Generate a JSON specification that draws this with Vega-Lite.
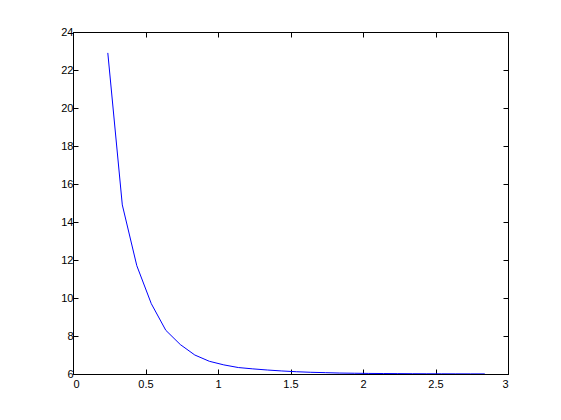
{
  "$schema": "https://vega.github.io/schema/vega-lite/v6.json",
  "width": 435,
  "height": 342,
  "autosize": {"type": "none"},
  "padding": {"left": 73, "top": 32, "right": 53, "bottom": 46},
  "background": "white",
  "config": {
    "view": {"stroke": "black", "strokeWidth": 1},
    "axis": {
      "grid": false,
      "title": null,
      "domainColor": "black",
      "domainWidth": 1,
      "tickColor": "black",
      "tickWidth": 1,
      "tickSize": -5,
      "labelFont": "Liberation Sans",
      "labelFontSize": 11,
      "labelColor": "black",
      "format": "~g"
    },
    "axisX": {"labelPadding": 9},
    "axisY": {"labelPadding": 5}
  },
  "data": {
    "values": [
      {"x": 0.24, "y": 22.9},
      {"x": 0.34, "y": 14.9},
      {"x": 0.44, "y": 11.7},
      {"x": 0.54, "y": 9.7},
      {"x": 0.64, "y": 8.3},
      {"x": 0.74, "y": 7.55},
      {"x": 0.84, "y": 7.0},
      {"x": 0.94, "y": 6.67},
      {"x": 1.04, "y": 6.48},
      {"x": 1.14, "y": 6.34},
      {"x": 1.24, "y": 6.27},
      {"x": 1.34, "y": 6.21},
      {"x": 1.44, "y": 6.16},
      {"x": 1.54, "y": 6.12},
      {"x": 1.64, "y": 6.09},
      {"x": 1.74, "y": 6.07},
      {"x": 1.84, "y": 6.05},
      {"x": 1.94, "y": 6.04},
      {"x": 2.04, "y": 6.03},
      {"x": 2.14, "y": 6.025},
      {"x": 2.24, "y": 6.02},
      {"x": 2.34, "y": 6.015},
      {"x": 2.44, "y": 6.012},
      {"x": 2.54, "y": 6.01},
      {"x": 2.64, "y": 6.008},
      {"x": 2.74, "y": 6.006},
      {"x": 2.84, "y": 6.005}
    ]
  },
  "layer": [
    {
      "mark": {"type": "line", "color": "#0000ff", "strokeWidth": 1, "clip": true},
      "encoding": {
        "x": {"field": "x", "type": "quantitative", "scale": {"domain": [0, 3], "nice": false, "zero": false},
              "axis": {"orient": "bottom", "values": [0, 0.5, 1, 1.5, 2, 2.5, 3], "format": "~g"}},
        "y": {"field": "y", "type": "quantitative", "scale": {"domain": [6, 24], "nice": false, "zero": false},
              "axis": {"orient": "left", "values": [6, 8, 10, 12, 14, 16, 18, 20, 22, 24], "format": "~g"}}
      }
    },
    {
      "mark": {"type": "line", "opacity": 0},
      "encoding": {
        "x": {"field": "x", "type": "quantitative",
              "axis": {"orient": "top", "values": [0, 0.5, 1, 1.5, 2, 2.5, 3], "labels": false}},
        "y": {"field": "y", "type": "quantitative",
              "axis": {"orient": "right", "values": [6, 8, 10, 12, 14, 16, 18, 20, 22, 24], "labels": false}}
      }
    }
  ],
  "resolve": {"axis": {"x": "independent", "y": "independent"}}
}
